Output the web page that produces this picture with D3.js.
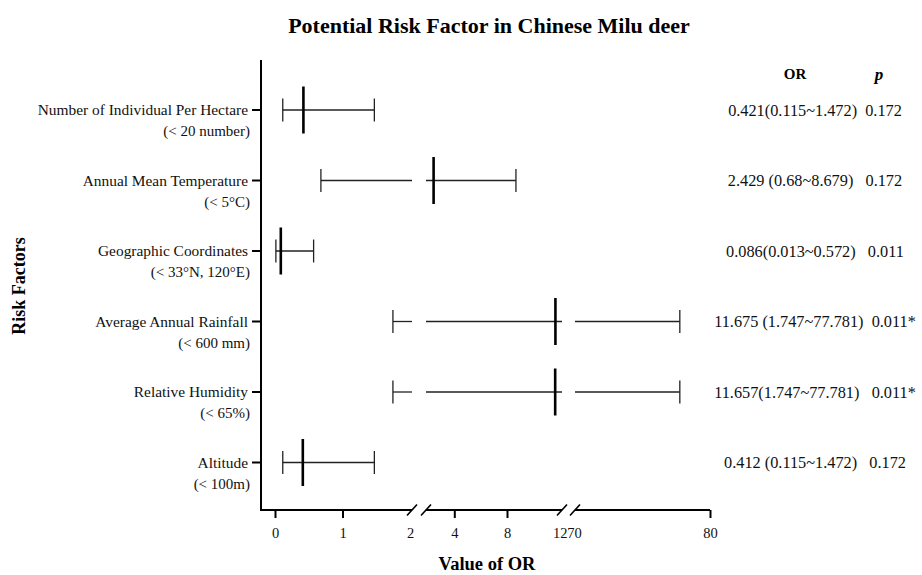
<!DOCTYPE html>
<html>
<head>
	<title>Potential Risk Factor in Chinese Milu deer</title>
	<style type="text/css">
		body { margin: 0; background: #fff; }
		svg { font-family: "Liberation Serif", "Times New Roman", serif; }
	</style>
</head>
<body>
	<svg width=922 height=575 class="forest"></svg>
	<script type="text/javascript" src="https://cdn.jsdelivr.net/npm/d3@7/dist/d3.min.js"></script>
	<script type="text/javascript">

		// values
		factors = ['Number of Individual Per Hectare', 'Annual Mean Temperature', 'Geographic Coordinates',
			'Average Annual Rainfall', 'Relative Humidity', 'Altitude']
		conditions = ['(< 20 number)', '(< 5\u00B0C)', '(< 33\u00B0N, 120\u00B0E)', '(< 600 mm)', '(< 65%)', '(< 100m)']
		orValues = [0.421, 2.429, 0.086, 11.675, 11.657, 0.412]
		ciLower = [0.115, 0.68, 0.013, 1.747, 1.747, 0.115]
		ciUpper = [1.472, 8.679, 0.572, 77.781, 77.781, 1.472]
		statLabels = ['0.421(0.115~1.472)  0.172', '2.429 (0.68~8.679)   0.172', '0.086(0.013~0.572)   0.011',
			'11.675 (1.747~77.781)  0.011*', '11.657(1.747~77.781)   0.011*', '0.412 (0.115~1.472)   0.172']

		// broken x axis: three pieces
		segDomains = [[0, 2], [4, 8], [70, 80]]
		segTicks = [[0, 1, 2], [4, 8, 12], [70, 80]]
		hiddenTicks = [2, 12, 70]

		svg = d3.select('.forest')
		yAxisX = 261
		xAxisY = 510
		plotTop = 60

		segRanges = [[275, 410], [454.3, 507], [574, 710]]
		segExtents = [[yAxisX, 412], [426, 562], [575, 710]]

		segs = segDomains.map(function(dom, i) {
			var sc = d3.scaleLinear().domain(dom).range(segRanges[i])
			return {scale: sc, px: segExtents[i], lo: sc.invert(segExtents[i][0]), hi: sc.invert(segExtents[i][1]), ticks: segTicks[i]}
		})

		y = d3.scalePoint().domain(factors).range([110, 462.5])

		rows = factors.map(function(f, i) {
			return {factor: f, cond: conditions[i], or: orValues[i], lo: ciLower[i], hi: ciUpper[i], stat: statLabels[i]}
		})

		function segOf(v) {
			return segs.find(function(s) { return v >= s.lo - 1e-9 && v <= s.hi + 1e-9 })
		}
		function xPos(v) { return segOf(v).scale(v) }

		// title
		svg.append('text')
			.attr('x', 489).attr('y', 33)
			.attr('text-anchor', 'middle')
			.attr('font-weight', 'bold').attr('font-size', 22)
			.text('Potential Risk Factor in Chinese Milu deer')

		// column headers
		svg.append('text').attr('x', 795).attr('y', 79).attr('text-anchor', 'middle')
			.attr('font-weight', 'bold').attr('font-size', 15).text('OR')
		svg.append('text').attr('x', 879).attr('y', 80).attr('text-anchor', 'middle')
			.attr('font-weight', 'bold').attr('font-style', 'italic').attr('font-size', 17).text('p')

		// y axis
		svg.append('line')
			.attr('x1', yAxisX).attr('x2', yAxisX)
			.attr('y1', plotTop).attr('y2', xAxisY + 1)
			.attr('stroke', '#000').attr('stroke-width', 2)

		yg = svg.append('g').selectAll('g.ylab').data(rows).enter().append('g')
			.attr('transform', function(d) { return 'translate(0,' + y(d.factor) + ')' })
		yg.append('line').attr('x1', yAxisX - 9).attr('x2', yAxisX).attr('stroke', '#000').attr('stroke-width', 2)
		yg.append('text').attr('x', 248).attr('y', 5).attr('text-anchor', 'end')
			.attr('font-size', 15.4).attr('fill', '#111').text(function(d) { return d.factor })
		yg.append('text').attr('x', 250).attr('y', 26).attr('text-anchor', 'end')
			.attr('font-size', 15).attr('fill', '#111').text(function(d) { return d.cond })

		// x axis pieces
		segs.forEach(function(s, i) {
			var g = svg.append('g').attr('transform', 'translate(0,' + xAxisY + ')')
			g.append('line').attr('x1', s.px[0]).attr('x2', s.px[1])
				.attr('stroke', '#000').attr('stroke-width', 2)
			var ax = d3.axisBottom(s.scale).tickValues(s.ticks).tickFormat(d3.format('d'))
				.tickSize(8).tickSizeOuter(0).tickPadding(10)
			var ag = g.append('g').call(ax).attr('font-family', null).attr('font-size', null)
			ag.select('.domain').remove()
			ag.selectAll('.tick line').attr('stroke', '#000').attr('stroke-width', 2)
				.attr('opacity', function(d) { return hiddenTicks.indexOf(d) >= 0 ? 0 : 1 })
			ag.selectAll('.tick text').attr('font-size', 14.5).attr('fill', '#111')
			// break slashes
			var ends = []
			if (i > 0) ends.push(s.px[0])
			if (i < segs.length - 1) ends.push(s.px[1])
			ends.forEach(function(ex) {
				g.append('line').attr('x1', ex - 5).attr('x2', ex + 5).attr('y1', 5.5).attr('y2', -5.5)
					.attr('stroke', '#000').attr('stroke-width', 1.6)
			})
		})

		// CI lines, clipped to each axis piece
		marks = svg.append('g')
		rows.forEach(function(d) {
			segs.forEach(function(s) {
				var a = Math.max(d.lo, s.lo), b = Math.min(d.hi, s.hi)
				if (a < b) {
					marks.append('line')
						.attr('x1', s.scale(a)).attr('x2', s.scale(b))
						.attr('y1', y(d.factor)).attr('y2', y(d.factor))
						.attr('stroke', '#222').attr('stroke-width', 1.3)
				}
			})
			;[d.lo, d.hi].forEach(function(v) {
				marks.append('line')
					.attr('x1', xPos(v)).attr('x2', xPos(v))
					.attr('y1', y(d.factor) - 11.5).attr('y2', y(d.factor) + 11.5)
					.attr('stroke', '#222').attr('stroke-width', 1.3)
			})
			marks.append('line')
				.attr('x1', xPos(d.or)).attr('x2', xPos(d.or))
				.attr('y1', y(d.factor) - 23.5).attr('y2', y(d.factor) + 23.5)
				.attr('stroke', '#000').attr('stroke-width', 2.6)
		})

		// OR and p values
		svg.append('g').selectAll('text').data(rows).enter().append('text')
			.attr('x', 815).attr('y', function(d) { return y(d.factor) + 5.5 })
			.attr('text-anchor', 'middle').attr('font-size', 16.3).attr('fill', '#111')
			.style('white-space', 'pre')
			.text(function(d) { return d.stat })

		// axis titles
		svg.append('text').attr('x', 487).attr('y', 570).attr('text-anchor', 'middle')
			.attr('font-weight', 'bold').attr('font-size', 18.5).text('Value of OR')
		svg.append('text')
			.attr('transform', 'translate(25,286) rotate(-90)')
			.attr('text-anchor', 'middle')
			.attr('font-weight', 'bold').attr('font-size', 18).text('Risk Factors')

	</script>
</body>
</html>
